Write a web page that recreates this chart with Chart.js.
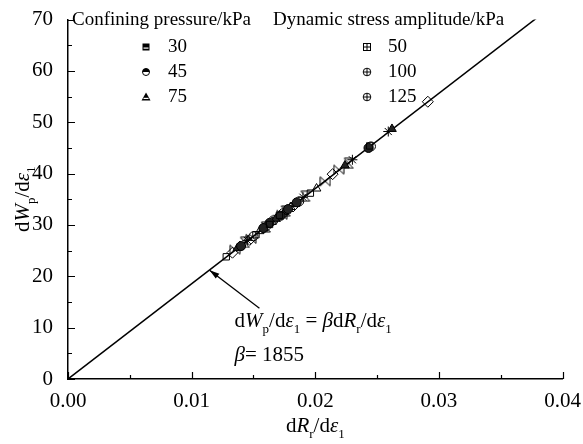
<!DOCTYPE html>
<html><head><meta charset="utf-8">
<script src="https://cdn.jsdelivr.net/npm/chart.js@4/dist/chart.umd.min.js"></script>
<style>html,body{margin:0;padding:0;background:#fff}#wrap{width:583px;height:444px}</style>
</head><body><div id="wrap"><canvas id="c" width="583" height="444"></canvas></div>
<script>
// ---- data ----
const xTicks = [0, 0.01, 0.02, 0.03, 0.04];
const yTicks = [0, 10, 20, 30, 40, 50, 60, 70];
const confiningPressures = ['30', '45', '75'];
const stressAmplitudes = ['50', '100', '125'];
const betaText = '1855';
const fitX = [0, 0.04];
const fitY = [0, 74.2];
const s1x = [0.0128, 0.0152, 0.0171, 0.0196, 0.0244, 0.0163];
const s1y = [23.8, 28.1, 31.9, 36.2, 45.4, 30.1];
const s2x = [0.0140, 0.0163, 0.0178, 0.0185, 0.0243, 0.0172, 0.0158];
const s2y = [25.9, 30.4, 33.1, 34.4, 45.0, 31.8, 29.4];
const s3x = [0.0137, 0.0158, 0.0175, 0.0224, 0.0262, 0.0168, 0.0184];
const s3y = [25.5, 29.4, 32.5, 41.6, 48.7, 31.2, 34.1];
const s4x = [0.0133, 0.0161, 0.0182, 0.0214, 0.0291, 0.0147];
const s4y = [24.6, 29.8, 33.6, 39.9, 54.0, 27.1];
const s5x = [0.0145, 0.0169, 0.0190, 0.0230, 0.0259, 0.0177];
const s5y = [27.0, 31.3, 35.4, 42.7, 48.2, 32.9];
const s6x = [0.0148, 0.0173, 0.0208, 0.0219, 0.0135];
const s6y = [27.3, 32.0, 38.5, 40.8, 25.2];
const s7x = [0.0139, 0.0155, 0.0180, 0.0201, 0.0165];
const s7y = [25.9, 28.8, 33.5, 37.1, 30.6];
const s8x = [0.0150, 0.0166, 0.0187, 0.0245, 0.0174];
const s8y = [27.8, 30.9, 34.6, 45.3, 32.3];
const s9x = [0.0143, 0.0176, 0.0192, 0.0227, 0.0160];
const s9y = [26.6, 32.7, 35.6, 42.0, 29.6];

const FONT = "Liberation Serif, Times New Roman, serif";
Chart.defaults.font.family = FONT;
Chart.defaults.color = '#000';
const pts = (xs, ys) => xs.map((v, i) => ({x: v, y: ys[i]}));

function markerCanvas(draw, size) {
  const c = document.createElement('canvas');
  c.width = size; c.height = size;
  const g = c.getContext('2d');
  g.strokeStyle = '#000'; g.fillStyle = '#000'; g.lineWidth = 1;
  draw(g, size);
  return c;
}
const bowtie = markerCanvas((g, s) => {
  g.beginPath();
  g.moveTo(1, 1.5); g.lineTo(s - 1, s - 1.5); g.lineTo(s - 1, 1.5); g.lineTo(1, s - 1.5); g.closePath();
  g.stroke();
}, 12);
const hourglass = markerCanvas((g, s) => {
  g.beginPath();
  g.moveTo(1.5, 1); g.lineTo(s - 1.5, 1); g.lineTo(1.5, s - 1); g.lineTo(s - 1.5, s - 1); g.closePath();
  g.stroke();
}, 12);

const base = {showLine: false, borderWidth: 1, borderColor: '#000'};
const datasets = [
  {...base, data: pts(s1x, s1y), pointStyle: 'rect', pointRadius: 4.5, backgroundColor: 'rgba(255,255,255,0)'},
  {...base, data: pts(s2x, s2y), pointStyle: 'circle', pointRadius: 4.5, backgroundColor: '#222'},
  {...base, data: pts(s3x, s3y), pointStyle: 'triangle', pointRadius: 5, backgroundColor: '#222'},
  {...base, data: pts(s4x, s4y), pointStyle: 'rectRot', pointRadius: 5.5, backgroundColor: 'rgba(255,255,255,0)'},
  {...base, data: pts(s5x, s5y), pointStyle: 'star', pointRadius: 5, backgroundColor: 'rgba(0,0,0,0)'},
  {...base, data: pts(s6x, s6y), pointStyle: bowtie, pointRadius: 6},
  {...base, data: pts(s7x, s7y), pointStyle: 'triangle', pointRadius: 5, backgroundColor: 'rgba(255,255,255,0)'},
  {...base, data: pts(s8x, s8y), pointStyle: 'circle', pointRadius: 4.5, backgroundColor: 'rgba(255,255,255,0)'},
  {...base, data: pts(s9x, s9y), pointStyle: hourglass, pointRadius: 6},
  {type: 'line', data: pts(fitX, fitY), borderColor: '#000', borderWidth: 1.5, pointRadius: 0, fill: false, tension: 0}
];

// rich text: segments [text, flags] flags: i = italic, s = subscript
function richWidth(ctx, segs, size) {
  let w = 0;
  for (const [t, f] of segs) {
    const sz = f.includes('s') ? size * 0.62 : size;
    ctx.font = (f.includes('i') ? 'italic ' : '') + sz + 'px ' + FONT;
    w += ctx.measureText(t).width;
  }
  return w;
}
function richText(ctx, segs, x, y, size, align) {
  let w = richWidth(ctx, segs, size);
  let cx = align === 'center' ? x - w / 2 : x;
  ctx.textBaseline = 'alphabetic'; ctx.textAlign = 'left'; ctx.fillStyle = '#000';
  for (const [t, f] of segs) {
    const sub = f.includes('s');
    const sz = sub ? size * 0.62 : size;
    ctx.font = (f.includes('i') ? 'italic ' : '') + sz + 'px ' + FONT;
    ctx.fillText(t, cx, y + (sub ? size * 0.3 : 0));
    cx += ctx.measureText(t).width;
  }
}
const xTitle = [['d', ''], ['R', 'i'], ['r', 's'], ['/d', ''], ['ε', 'i'], ['1', 's']];
const yTitle = [['d', ''], ['W', 'i'], ['p', 's'], ['/d', ''], ['ε', 'i'], ['1', 's']];
const eqText = [['d', ''], ['W', 'i'], ['p', 's'], ['/d', ''], ['ε', 'i'], ['1', 's'], [' = ', ''], ['β', 'i'], ['d', ''], ['R', 'i'], ['r', 's'], ['/d', ''], ['ε', 'i'], ['1', 's']];
const betaLine = [['β', 'i'], ['= ' + betaText, '']];
const eqPos = {x: 0.01347, y: 10.2};
const betaPos = {x: 0.01347, y: 3.6};
const arrowFrom = {x: 0.01548, y: 13.8};
const arrowTo = {x: 0.01145, y: 21.2};

const decor = {
  id: 'decor',
  afterDraw(chart) {
    const {ctx, chartArea: a, scales: {x, y}} = chart;
    ctx.save();
    // inward ticks
    ctx.strokeStyle = '#000'; ctx.lineWidth = 1.2;
    ctx.beginPath();
    xTicks.forEach((v, i) => {
      const px = Math.round(x.getPixelForValue(v)) + 0.5;
      ctx.moveTo(px, a.bottom); ctx.lineTo(px, a.bottom - 7);
      if (i < xTicks.length - 1) {
        const m = Math.round(x.getPixelForValue((v + xTicks[i + 1]) / 2)) + 0.5;
        ctx.moveTo(m, a.bottom); ctx.lineTo(m, a.bottom - 4);
      }
    });
    yTicks.forEach((v, i) => {
      const py = Math.round(y.getPixelForValue(v)) + 0.5;
      ctx.moveTo(a.left, py); ctx.lineTo(a.left + 7, py);
      if (i < yTicks.length - 1) {
        const m = Math.round(y.getPixelForValue((v + yTicks[i + 1]) / 2)) + 0.5;
        ctx.moveTo(a.left, m); ctx.lineTo(a.left + 4, m);
      }
    });
    ctx.stroke();
    // axis titles
    richText(ctx, xTitle, (a.left + a.right) / 2, 432, 21, 'center');
    ctx.save();
    ctx.translate(29, (a.top + a.bottom) / 2);
    ctx.rotate(-Math.PI / 2);
    richText(ctx, yTitle, 0, 0, 21, 'center');
    ctx.restore();
    // equation annotation
    richText(ctx, eqText, x.getPixelForValue(eqPos.x), y.getPixelForValue(eqPos.y), 21, 'left');
    richText(ctx, betaLine, x.getPixelForValue(betaPos.x), y.getPixelForValue(betaPos.y), 21, 'left');
    // arrow
    const x0 = x.getPixelForValue(arrowFrom.x), y0 = y.getPixelForValue(arrowFrom.y);
    const x1 = x.getPixelForValue(arrowTo.x), y1 = y.getPixelForValue(arrowTo.y);
    ctx.strokeStyle = '#000'; ctx.lineWidth = 1.3;
    ctx.beginPath(); ctx.moveTo(x0, y0); ctx.lineTo(x1, y1); ctx.stroke();
    const ang = Math.atan2(y1 - y0, x1 - x0);
    ctx.beginPath();
    ctx.moveTo(x1, y1);
    ctx.lineTo(x1 - 10 * Math.cos(ang) + 3 * Math.sin(ang), y1 - 10 * Math.sin(ang) - 3 * Math.cos(ang));
    ctx.lineTo(x1 - 10 * Math.cos(ang) - 3 * Math.sin(ang), y1 - 10 * Math.sin(ang) + 3 * Math.cos(ang));
    ctx.closePath(); ctx.fillStyle = '#000'; ctx.fill();
    // legend
    ctx.fillStyle = '#000'; ctx.textBaseline = 'middle'; ctx.textAlign = 'left';
    ctx.font = '19px ' + FONT;
    ctx.fillText('Confining pressure/kPa', 72, 20);
    ctx.fillText('Dynamic stress amplitude/kPa', 273, 20);
    const rows = [47, 72, 97];
    confiningPressures.forEach((t, i) => {
      ctx.font = '19px ' + FONT; ctx.fillStyle = '#000';
      ctx.fillText(t, 168, rows[i]);
      drawLegendMarker(ctx, 'c' + i, 146, rows[i]);
    });
    stressAmplitudes.forEach((t, i) => {
      ctx.font = '19px ' + FONT; ctx.fillStyle = '#000';
      ctx.fillText(t, 388, rows[i]);
      drawLegendMarker(ctx, 'a' + i, 367, rows[i]);
    });
    ctx.restore();
  }
};
function drawLegendMarker(ctx, kind, cx, cy) {
  ctx.save();
  ctx.strokeStyle = '#000'; ctx.fillStyle = '#000'; ctx.lineWidth = 1;
  const r = 3.5;
  if (kind === 'c0') {
    ctx.fillRect(cx - r, cy - r, 2 * r, 2 * r);
    ctx.fillStyle = '#fff'; ctx.fillRect(cx - r + 1, cy + 0.5, 2 * r - 2, 1.2);
  } else if (kind === 'c1') {
    ctx.beginPath(); ctx.arc(cx, cy, r, Math.PI, 0); ctx.closePath(); ctx.fill();
    ctx.beginPath(); ctx.arc(cx, cy, r, 0, 2 * Math.PI); ctx.stroke();
  } else if (kind === 'c2') {
    ctx.beginPath(); ctx.moveTo(cx, cy - 4.5); ctx.lineTo(cx + 4.5, cy + 3.5); ctx.lineTo(cx - 4.5, cy + 3.5); ctx.closePath(); ctx.fill();
    ctx.fillStyle = '#fff'; ctx.fillRect(cx - 2.5, cy + 0.8, 5, 1.2);
  } else if (kind === 'a0') {
    ctx.strokeRect(cx - r, cy - r, 2 * r, 2 * r);
    ctx.beginPath(); ctx.moveTo(cx - r, cy); ctx.lineTo(cx + r, cy); ctx.moveTo(cx, cy - r); ctx.lineTo(cx, cy + r); ctx.stroke();
  } else {
    ctx.beginPath(); ctx.arc(cx, cy, r + 0.3, 0, 2 * Math.PI); ctx.stroke();
    ctx.beginPath(); ctx.moveTo(cx - r, cy); ctx.lineTo(cx + r, cy); ctx.moveTo(cx, cy - r); ctx.lineTo(cx, cy + r); ctx.stroke();
  }
  ctx.restore();
}

new Chart(document.getElementById('c'), {
  type: 'scatter',
  data: {datasets},
  options: {
    responsive: false, animation: false, devicePixelRatio: 1,
    layout: {padding: {top: 13, right: 19, left: 0, bottom: 0}},
    plugins: {legend: {display: false}, tooltip: {enabled: false}},
    scales: {
      x: {
        type: 'linear', min: 0, max: 0.04,
        afterBuildTicks: s => { s.ticks = xTicks.map(v => ({value: v})); },
        ticks: {callback: v => v.toFixed(2), font: {family: FONT, size: 21}, color: '#000', padding: 2, maxRotation: 0},
        grid: {display: false},
        border: {display: true, color: '#000', width: 1.5},
        afterFit: s => { s.height = 65; }
      },
      y: {
        min: 0, max: 70,
        afterBuildTicks: s => { s.ticks = yTicks.map(v => ({value: v})); },
        ticks: {font: {family: FONT, size: 21}, color: '#000', padding: 7},
        grid: {display: false},
        border: {display: true, color: '#000', width: 1.5},
        afterFit: s => { s.width = 68; }
      }
    }
  },
  plugins: [decor]
});
</script>
</body></html>
